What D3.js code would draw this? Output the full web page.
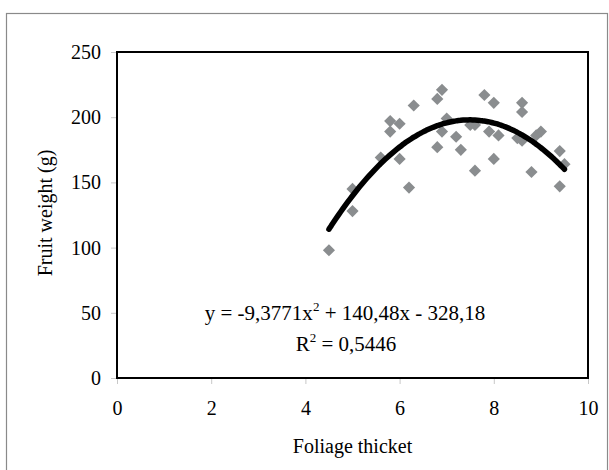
<!DOCTYPE html>
<html>
<head>
<meta charset="utf-8">
<script src="https://cdn.jsdelivr.net/npm/d3@7"></script>
<style>
  body { margin: 0; background: #fff; }
  text { font-family: "Liberation Serif", "Times New Roman", serif; fill: #000; }
</style>
</head>
<body>
<svg id="chart" width="609" height="470"></svg>
<script>
// foliage thicket (x) vs fruit weight in g (y)
var thicket = [4.5, 5.0, 5.0, 5.6, 5.8, 5.8, 6.0, 6.0, 6.2, 6.3, 6.8, 6.9, 7.0, 6.9, 6.8, 7.2, 7.3, 7.5, 7.6, 7.6,
               7.8, 8.0, 7.9, 8.1, 8.0, 8.6, 8.6, 8.5, 8.6, 8.9, 9.0, 8.8, 9.4, 9.5, 9.4];
var weight  = [98, 128, 145, 169, 197, 189, 195, 168, 146, 209, 214, 221, 199, 189, 177, 185, 175, 194, 194, 159,
               217, 211, 189, 186, 168, 211, 204, 184, 182, 186, 189, 158, 174, 164, 147];

// fitted trend: y = -9,3771x2 + 140,48x - 328,18
var coef = [-9.3771, 140.48, -328.18];
var fitFrom = 4.5, fitTo = 9.5;

var xTicks = [0, 2, 4, 6, 8, 10];
var yTicks = [0, 50, 100, 150, 200, 250];

var svg = d3.select("#chart");

// outer frame, runs off the bottom of the picture
svg.append("rect")
  .attr("x", 6.5).attr("y", 13.5)
  .attr("width", 601).attr("height", 480)
  .attr("fill", "none").attr("stroke", "#8a8a8a").attr("stroke-width", 1.2);

// NB: "top" is taken by window.top, so plot edges get their own names
var plotL = 117, plotR = 588, plotT = 52, plotB = 378;

var x = d3.scaleLinear().domain([0, 10]).range([plotL, plotR]);
var y = d3.scaleLinear().domain([0, 250]).range([plotB, plotT]);

// axes with short grey ticks
var gx = svg.append("g").attr("transform", "translate(0," + plotB + ")")
  .call(d3.axisBottom(x).tickValues(xTicks).tickSize(6).tickPadding(17));
var gy = svg.append("g").attr("transform", "translate(" + plotL + ",0)")
  .call(d3.axisLeft(y).tickValues(yTicks).tickSize(6).tickPadding(10));

[gx, gy].forEach(function(g) {
  g.select(".domain").remove();
  g.selectAll(".tick line").attr("stroke", "#c8c8c8").attr("stroke-width", 1);
  g.selectAll(".tick text")
    .attr("font-family", "Liberation Serif, serif")
    .attr("font-size", 20)
    .attr("fill", "#000");
});

// plot box
svg.append("rect")
  .attr("x", plotL).attr("y", plotT)
  .attr("width", plotR - plotL).attr("height", plotB - plotT)
  .attr("fill", "none").attr("stroke", "#000").attr("stroke-width", 2);

// diamonds
var diamond = d3.symbol().type(d3.symbolSquare).size(74);
svg.append("g").selectAll("path")
  .data(thicket)
  .join("path")
  .attr("d", diamond)
  .attr("transform", function(d, i) { return "translate(" + x(d) + "," + y(weight[i]) + ") rotate(45)"; })
  .attr("fill", "#8a8d8f");

// trend curve
var fitX = d3.range(fitFrom, fitTo + 0.001, 0.05);
var line = d3.line()
  .x(function(d) { return x(d); })
  .y(function(d) { return y(coef[0] * d * d + coef[1] * d + coef[2]); })
  .curve(d3.curveBasis);
svg.append("path")
  .datum(fitX)
  .attr("d", line)
  .attr("fill", "none")
  .attr("stroke", "#000")
  .attr("stroke-width", 5.5)
  .attr("stroke-linecap", "round");

// equation label
var eq = svg.append("text").attr("x", 345).attr("y", 320).attr("text-anchor", "middle").attr("font-size", 21);
eq.append("tspan").text("y = -9,3771x");
eq.append("tspan").attr("font-size", 13).attr("dy", -9).text("2");
eq.append("tspan").attr("dy", 9).text(" + 140,48x - 328,18");

var r2 = svg.append("text").attr("x", 346).attr("y", 351).attr("text-anchor", "middle").attr("font-size", 21);
r2.append("tspan").text("R");
r2.append("tspan").attr("font-size", 13).attr("dy", -9).text("2");
r2.append("tspan").attr("dy", 9).text(" = 0,5446");

// axis titles
svg.append("text")
  .attr("x", (plotL + plotR) / 2).attr("y", 453)
  .attr("text-anchor", "middle").attr("font-size", 20)
  .text("Foliage thicket");

svg.append("text")
  .attr("transform", "translate(52,213) rotate(-90)")
  .attr("text-anchor", "middle").attr("font-size", 20)
  .text("Fruit weight (g)");
</script>
</body>
</html>
